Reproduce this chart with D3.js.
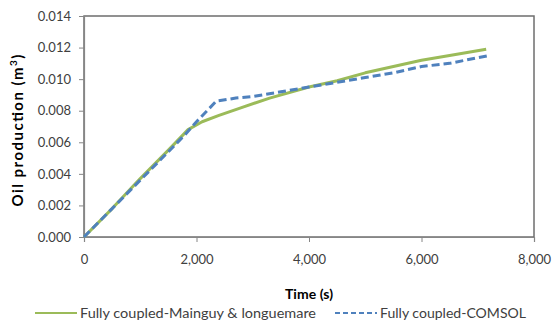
<!DOCTYPE html>
<html>
<head>
<meta charset="utf-8">
<script src="https://cdn.jsdelivr.net/npm/d3@7"></script>
<style>
  html, body { margin: 0; padding: 0; background: #fff; }
  svg { display: block; font-family: Lato, "Open Sans", sans-serif; }
</style>
</head>
<body>
<svg id="chart" width="553" height="324"></svg>
<script>
// Time axis (s) and oil production (m³) for the two fully coupled models
const mainguyTime   = [0, 500, 1000, 1500, 1850, 2100, 2400, 2800, 3300, 4000, 4500, 5000, 5500, 6000, 6500, 7150];
const mainguyOil    = [0, 0.0018, 0.0037, 0.0055, 0.0068, 0.0073, 0.0077, 0.0082, 0.0088, 0.0095, 0.0099, 0.0104, 0.0108, 0.0112, 0.0115, 0.0119];
const comsolTime    = [0, 500, 1000, 1500, 1800, 2000, 2350, 2700, 3000, 3500, 4000, 4500, 5000, 5500, 6000, 6500, 7200];
const comsolOil     = [0, 0.0018, 0.0036, 0.0054, 0.0065, 0.0073, 0.0086, 0.0088, 0.0089, 0.0092, 0.0095, 0.0098, 0.0101, 0.0104, 0.0108, 0.0110, 0.0115];
const xTicks = [0, 2000, 4000, 6000, 8000];
const yTicks = [0, 0.002, 0.004, 0.006, 0.008, 0.010, 0.012, 0.014];
const seriesNames = ["Fully coupled-Mainguy & longuemare", "Fully coupled-COMSOL"];

const svg = d3.select("#chart");
const plot = { left: 84, top: 16, right: 534, bottom: 237 };

const x = d3.scaleLinear().domain([0, 8000]).range([plot.left, plot.right]);
const y = d3.scaleLinear().domain([0, 0.014]).range([plot.bottom, plot.top]);

const axisColor = "#868686";
const textColor = "#404040";

// plot area frame
svg.append("rect")
  .attr("x", plot.left).attr("y", plot.top)
  .attr("width", plot.right - plot.left).attr("height", plot.bottom - plot.top)
  .attr("fill", "none").attr("stroke", "#6e6e6e").attr("stroke-width", 1.5);

// axes
const xAxis = svg.append("g")
  .attr("transform", `translate(0,${plot.bottom})`)
  .call(d3.axisBottom(x).tickValues(xTicks).tickFormat(d3.format(",")).tickSize(5).tickPadding(13));
const yAxis = svg.append("g")
  .attr("transform", `translate(${plot.left},0)`)
  .call(d3.axisLeft(y).tickValues(yTicks).tickFormat(d3.format(".3f")).tickSize(5).tickPadding(8));

[xAxis, yAxis].forEach(g => {
  g.select(".domain").attr("stroke", axisColor).attr("stroke-width", 1.2);
  g.selectAll(".tick line").attr("stroke", axisColor);
  g.selectAll(".tick text").attr("fill", textColor).style("font-size", "13px").style("font-family", "Lato, sans-serif");
});

// axis titles
svg.append("text")
  .attr("x", (plot.left + plot.right) / 2).attr("y", 299)
  .attr("text-anchor", "middle")
  .attr("textLength", 48).attr("lengthAdjust", "spacing")
  .style("font-size", "14px").style("font-weight", "bold").attr("fill", "#000")
  .text("Time (s)");

const yTitle = svg.append("text")
  .attr("transform", `translate(23,${(plot.top + plot.bottom) / 2 + 4}) rotate(-90)`)
  .attr("text-anchor", "middle")
  .attr("textLength", 152).attr("lengthAdjust", "spacing")
  .style("font-size", "15px").style("font-weight", "bold").attr("fill", "#000");
yTitle.append("tspan").text("Oil production (m");
yTitle.append("tspan").attr("baseline-shift", "super").style("font-size", "10px").text("3");
yTitle.append("tspan").text(")");

// series lines
const line = d3.line().x(d => x(d[0])).y(d => y(d[1]));

const series = [
  { name: seriesNames[0], data: d3.zip(mainguyTime, mainguyOil), color: "#9bbb59", dash: null },
  { name: seriesNames[1], data: d3.zip(comsolTime, comsolOil), color: "#4f81bd", dash: "8,4" }
];

series.forEach(s => {
  svg.append("path")
    .datum(s.data)
    .attr("fill", "none")
    .attr("stroke", s.color)
    .attr("stroke-width", 3)
    .attr("stroke-linejoin", "round")
    .attr("stroke-dasharray", s.dash)
    .attr("d", line);
});

// legend
const legendY = 318;
const legendItems = [
  { x: 35, width: 236, ...series[0] },
  { x: 335, width: 146, ...series[1] }
];
legendItems.forEach(item => {
  svg.append("line")
    .attr("x1", item.x).attr("x2", item.x + 42)
    .attr("y1", legendY - 5).attr("y2", legendY - 5)
    .attr("stroke", item.color).attr("stroke-width", item.dash ? 2 : 2.2)
    .attr("stroke-dasharray", item.dash ? "5,3" : null);
  svg.append("text")
    .attr("x", item.x + 45).attr("y", legendY)
    .attr("textLength", item.width).attr("lengthAdjust", "spacingAndGlyphs")
    .style("font-size", "14px").attr("fill", textColor)
    .text(item.name);
});
</script>
</body>
</html>
